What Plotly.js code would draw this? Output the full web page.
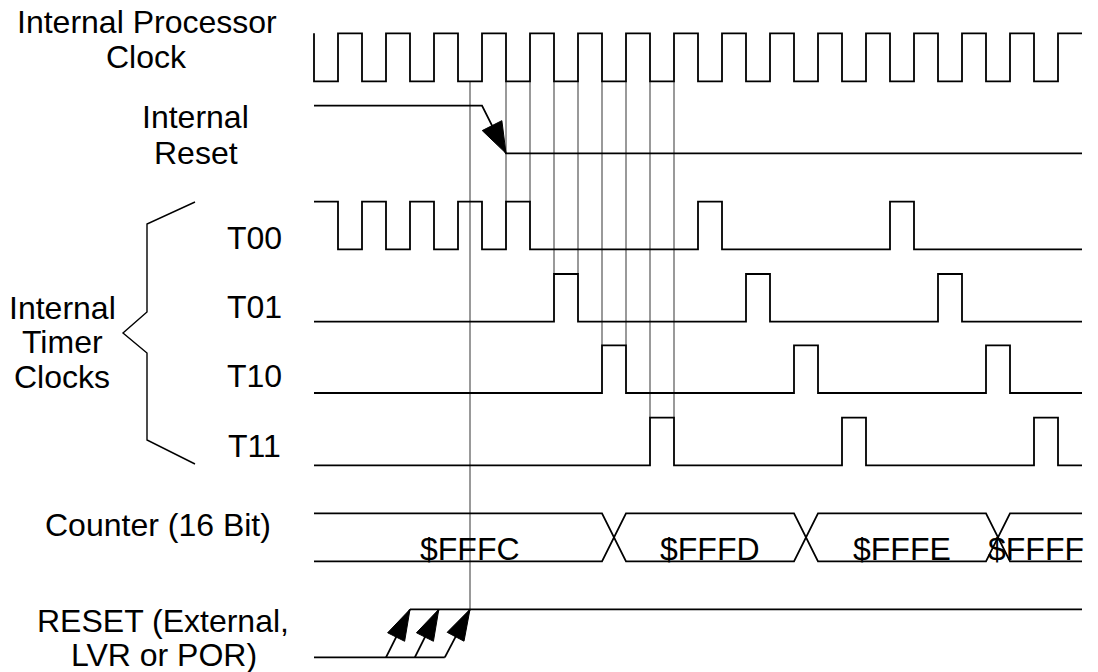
<!DOCTYPE html>
<html><head><meta charset="utf-8">
<script src="https://cdn.plot.ly/plotly-3.0.1.min.js"></script>
<style>html,body{margin:0;padding:0;background:#fff}#chart{width:1098px;height:672px}</style>
</head><body><div id="chart"></div>
<script>
// ---- data (time in clock half-periods) ----
const clockEdges = [0,1,2,3,4,5,6,7,8,9,10,11,12,13,14,15,16,17,18,19,20,21,22,23,24,25,26,27,28,29,30,31];
const t00Edges = [1,2,3,4,5,6,7,8,9,16,17,24,25];
const t01Edges = [10,11,18,19,26,27];
const t10Edges = [12,13,20,21,28,29];
const t11Edges = [14,15,22,23,30,31];
const resetFall = [7,8];
const counterSwitch = [12,20,28];
const counterValues = ['$FFFC','$FFFD','$FFFE','$FFFF'];
const counterLabelT = [6.5,16.5,24.5,30.1];
const extResetStart = [3.0,4.2,5.45];
const extResetEnd = [4.0,5.2,6.5];
const guideT = [6.5,8,9,10,11,12,13,14,15];
const guideTo = ['ext','t00','t00','t01','t01','t10','t10','t11','t11'];
const tEnd = 32;
const signalLabels = ['Internal Processor','Clock','Internal','Reset','T00','T01','T10','T11','Internal','Timer','Clocks','Counter (16 Bit)','RESET (External,','LVR or POR)'];

(function(){
// ---- layout constants (pixels) ----
const W = 1098, H = 672, X0 = 314, UNIT = 24;
const rows = {clk:[33.3,81.3], rst:[105.7,153.3], t00:[201.7,249.3], t01:[274,321.7],
  t10:[345.3,393], t11:[417.7,465.3], cnt:[513.3,561.3], ext:[609.3,657.3]};
const labelPos = [[147,22],[146,57],[195,117],[196,153],[254,238],[254,307],[254,376],[254,446],
  [62,308],[62,342],[62,377],[158,525],[163,621],[164,655]];
const bracePx = [[195,202],[147,224],[147,312],[123,333],[147,353],[147,440],[195,464]];
const FONT = {family:'Liberation Sans, Arial, sans-serif', size:32, color:'#000'};
const BLACK = {color:'#000', width:1.8};
const GRAY = {color:'#999', width:2};

const toT = px => (px - X0) / UNIT;
const toPx = t => X0 + t * UNIT;

function step(edges, startHigh, row){
  let lvl = startHigh; const [hi, lo] = row;
  const xs = [0], ys = [lvl ? hi : lo];
  for (const e of edges){ xs.push(e); ys.push(lvl ? hi : lo); lvl = !lvl; xs.push(e); ys.push(lvl ? hi : lo); }
  xs.push(tEnd); ys.push(lvl ? hi : lo);
  return {xs, ys};
}
function line(xs, ys, style){ return {type:'scatter', mode:'lines', x:xs, y:ys, line:style, hoverinfo:'skip', showlegend:false}; }
function head(st, sy, et, ey, L, hw){
  const sx = toPx(st), ex = toPx(et);
  const dx = ex - sx, dy = ey - sy, n = Math.hypot(dx, dy);
  const ux = dx/n, uy = dy/n, bx = ex - L*ux, by = ey - L*uy;
  const px = -uy, py = ux;
  const xs = [ex, bx + hw*px, bx - hw*px, ex].map(toT);
  const ys = [ey, by + hw*py, by - hw*py, ey];
  return {type:'scatter', mode:'lines', x:xs, y:ys, fill:'toself', fillcolor:'#000', line:{color:'#000', width:1}, hoverinfo:'skip', showlegend:false};
}

const traces = [];
const gx = [], gy = [];
guideT.forEach((t, i) => { gx.push(t, t, null); gy.push(rows.clk[1], rows[guideTo[i]][0], null); });
traces.push(line(gx, gy, GRAY));

[[clockEdges, true, rows.clk],[t00Edges, true, rows.t00],[t01Edges, false, rows.t01],
 [t10Edges, false, rows.t10],[t11Edges, false, rows.t11]].forEach(([e, s, r]) => {
  const w = step(e, s, r); traces.push(line(w.xs, w.ys, BLACK));
});

traces.push(line([0, resetFall[0], resetFall[1], tEnd], [rows.rst[0], rows.rst[0], rows.rst[1], rows.rst[1]], BLACK));
traces.push(head(resetFall[0], rows.rst[0], resetFall[1], rows.rst[1], 31, 11));

const busTop = rows.cnt[0], busBot = rows.cnt[1];
const ax = [0], ay = [busTop], bx = [0], by = [busBot];
let aTop = true;
counterSwitch.forEach(s => {
  ax.push(s, s + 1); ay.push(aTop ? busTop : busBot, aTop ? busBot : busTop);
  bx.push(s, s + 1); by.push(aTop ? busBot : busTop, aTop ? busTop : busBot);
  aTop = !aTop;
});
ax.push(tEnd); ay.push(aTop ? busTop : busBot); bx.push(tEnd); by.push(aTop ? busBot : busTop);
traces.push(line(ax, ay, BLACK)); traces.push(line(bx, by, BLACK));

const eh = rows.ext[0], el = rows.ext[1];
traces.push(line([0, extResetStart[extResetStart.length-1]], [el, el], BLACK));
traces.push(line([extResetEnd[0], tEnd], [eh, eh], BLACK));
extResetStart.forEach((s, i) => {
  traces.push(line([s, extResetEnd[i]], [el, eh], BLACK));
  traces.push(head(s, el, extResetEnd[i], eh, 31, 9.5));
});

traces.push(line(bracePx.map(p => toT(p[0])), bracePx.map(p => p[1]), {color:'#000', width:1.4}));

const annotations = signalLabels.map((txt, i) => ({
  text: txt, xref:'paper', yref:'y', x: labelPos[i][0] / W, y: labelPos[i][1],
  xanchor:'center', yanchor:'middle', showarrow:false, font: FONT
}));
counterValues.forEach((v, i) => annotations.push({
  text: v, xref:'x', yref:'y', x: counterLabelT[i], y: 549, xanchor:'center', yanchor:'middle', showarrow:false, font: FONT
}));

const layout = {
  width: W, height: H, margin:{l:0, r:0, t:0, b:0}, paper_bgcolor:'#fff', plot_bgcolor:'#fff',
  xaxis:{range:[toT(0), toT(W)], visible:false, fixedrange:true},
  yaxis:{range:[H, 0], visible:false, fixedrange:true},
  annotations, showlegend:false
};
Plotly.newPlot('chart', traces, layout, {staticPlot:true, displayModeBar:false});
})();
</script></body></html>
